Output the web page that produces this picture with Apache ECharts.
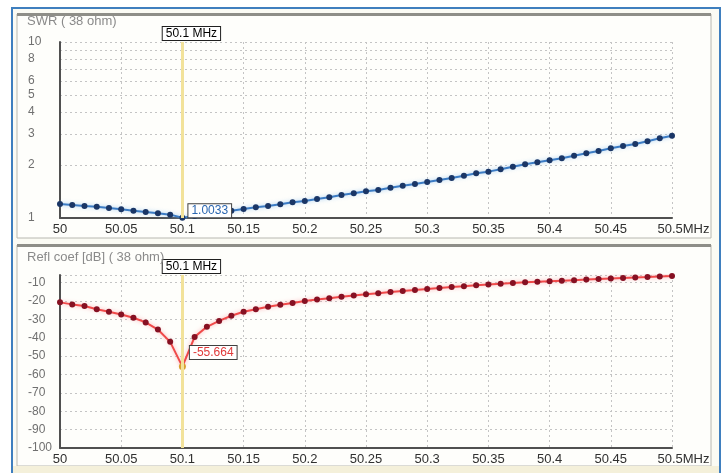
<!DOCTYPE html>
<html>
<head>
<meta charset="utf-8">
<script src="https://cdn.jsdelivr.net/npm/echarts@6/dist/echarts.min.js"></script>
<style>
  html, body { margin: 0; padding: 0; background: #fff; }
  #main { width: 724px; height: 473px; }
</style>
</head>
<body>
<div id="main"></div>
<script>
// frequency points (MHz)
var freqs = [50.00, 50.01, 50.02, 50.03, 50.04, 50.05, 50.06, 50.07, 50.08, 50.09,
    50.10, 50.11, 50.12, 50.13, 50.14, 50.15, 50.16, 50.17, 50.18, 50.19,
    50.20, 50.21, 50.22, 50.23, 50.24, 50.25, 50.26, 50.27, 50.28, 50.29,
    50.30, 50.31, 50.32, 50.33, 50.34, 50.35, 50.36, 50.37, 50.38, 50.39,
    50.40, 50.41, 50.42, 50.43, 50.44, 50.45, 50.46, 50.47, 50.48, 50.49, 50.50];

// SWR ( 38 ohm)
var swr = [1.20, 1.185, 1.17, 1.16, 1.14, 1.12, 1.10, 1.08, 1.063, 1.045,
    1.0033, 1.025, 1.05, 1.075, 1.10, 1.125, 1.15, 1.17, 1.196, 1.228,
    1.249, 1.282, 1.311, 1.351, 1.381, 1.418, 1.443, 1.486, 1.526, 1.56,
    1.60, 1.644, 1.687, 1.74, 1.794, 1.834, 1.891, 1.956, 2.019, 2.073,
    2.128, 2.184, 2.26, 2.332, 2.403, 2.489, 2.565, 2.634, 2.728, 2.838, 2.935];

// Refl coef [dB]
var refl = [-20.7, -21.8, -22.7, -24.4, -25.8, -27.3, -29.1, -31.6, -35.5, -42.2,
    -55.664, -39.5, -34.0, -30.8, -28.0, -25.8, -24.4, -23.1, -22.0, -21.0,
    -20.0, -19.2, -18.4, -17.6, -17.0, -16.3, -15.8, -15.1, -14.5, -14.0,
    -13.4, -12.9, -12.3, -11.9, -11.4, -11.0, -10.6, -10.2, -9.8, -9.5,
    -9.2, -8.9, -8.6, -8.3, -8.0, -7.7, -7.4, -7.1, -6.9, -6.6, -6.3];

var markerFreq = 50.1;
var markerIdx = 10;
var markerText = '50.1 MHz';

var swrGridValues = [1, 2, 3, 4, 5, 6, 7, 8, 9, 10];
var swrLabelValues = [1, 2, 3, 4, 5, 6, 8, 10];

var font = 'Liberation Sans, Arial, sans-serif';

function xAxisCfg(gridIndex) {
    return {
        type: 'value',
        gridIndex: gridIndex,
        min: 50,
        max: 50.5,
        interval: 0.05,
        axisLine: { show: true, onZero: false, lineStyle: { color: '#505050', width: 2 } },
        axisTick: { show: false },
        axisLabel: {
            color: '#303030',
            fontSize: 13,
            fontFamily: font,
            margin: 5,
            formatter: function (v) {
                var s = String(Math.round(v * 100) / 100);
                if (Math.abs(v - 50.5) < 1e-6) return '{m|' + s + 'MHz}';
                return s;
            },
            rich: {
                m: { color: '#303030', fontSize: 13, fontFamily: font, padding: [0, 0, 0, 23] }
            }
        },
        splitLine: { show: true, lineStyle: { color: '#c4c4c4', type: [2, 3], width: 1 } }
    };
}

function markLineCfg() {
    return {
        silent: true,
        symbol: 'none',
        lineStyle: { color: '#f2e29a', width: 3, type: 'solid' },
        label: {
            show: true,
            position: 'end',
            formatter: markerText,
            color: '#000',
            fontSize: 12,
            fontFamily: font,
            backgroundColor: '#fff',
            borderColor: '#202020',
            borderWidth: 1,
            padding: [1, 3, 0, 3],
            distance: 2,
            offset: [9, 0]
        },
        data: [{ xAxis: markerFreq }]
    };
}

var swrData = freqs.map(function (f, i) {
    if (i === markerIdx) {
        return {
            value: [f, swr[i]],
            label: {
                show: true,
                position: 'right',
                offset: [-2, -7],
                formatter: String(swr[i]),
                color: '#2a66b0',
                fontSize: 12,
                fontFamily: font,
                backgroundColor: '#fff',
                borderColor: '#404040',
                borderWidth: 1,
                padding: [1, 3, 0, 3]
            }
        };
    }
    return [f, swr[i]];
});

var reflData = freqs.map(function (f, i) {
    if (i === markerIdx) {
        return {
            value: [f, refl[i]],
            symbolSize: 7,
            itemStyle: { color: '#d8a030' },
            label: {
                show: true,
                position: 'right',
                offset: [-1, -14],
                formatter: String(refl[i]),
                color: '#e03a3a',
                fontSize: 12,
                fontFamily: font,
                backgroundColor: '#fff',
                borderColor: '#404040',
                borderWidth: 1,
                padding: [1, 3, 0, 3]
            }
        };
    }
    return [f, refl[i]];
});

var myChart = echarts.init(document.getElementById('main'), null, { renderer: 'canvas' });

var option = {
    animation: false,
    backgroundColor: '#ffffff',
    textStyle: { fontFamily: font },
    graphic: [
        // outer frame
        { type: 'rect', z: -20, shape: { x: 12, y: 8, width: 708, height: 470 },
          style: { fill: '#fbfbf4', stroke: '#3f7fbf', lineWidth: 2 } },
        // panels
        { type: 'rect', z: -19, shape: { x: 17, y: 14, width: 694, height: 224 },
          style: { fill: '#fefefb', stroke: '#b8b8b0', lineWidth: 1 } },
        { type: 'line', z: -18, shape: { x1: 17, y1: 14.5, x2: 711, y2: 14.5 },
          style: { stroke: '#8e8e88', lineWidth: 3 } },
        { type: 'rect', z: -19, shape: { x: 17, y: 245, width: 694, height: 221 },
          style: { fill: '#fefefb', stroke: '#b8b8b0', lineWidth: 1 } },
        { type: 'line', z: -18, shape: { x1: 17, y1: 245.5, x2: 711, y2: 245.5 },
          style: { stroke: '#8e8e88', lineWidth: 3 } },
        { type: 'rect', z: -18, shape: { x: 13, y: 466, width: 706, height: 8 },
          style: { fill: '#f4f0da' } }
    ],
    title: [
        { text: 'SWR ( 38 ohm)', left: 27, top: 15, padding: 0,
          textStyle: { color: '#8a8a8a', fontSize: 13, fontWeight: 'normal', fontFamily: font } },
        { text: 'Refl coef [dB] ( 38 ohm)', left: 27, top: 251, padding: 0,
          textStyle: { color: '#8a8a8a', fontSize: 13, fontWeight: 'normal', fontFamily: font } }
    ],
    grid: [
        { left: 60, right: 52, top: 42, height: 176 },
        { left: 60, right: 52, top: 275, height: 173 }
    ],
    xAxis: [xAxisCfg(0), xAxisCfg(1)],
    yAxis: [
        {
            type: 'log',
            logBase: 10,
            gridIndex: 0,
            min: 1,
            max: 10,
            axisLine: { show: true, lineStyle: { color: '#505050', width: 2 } },
            axisTick: { show: false, customValues: swrGridValues },
            axisLabel: {
                customValues: swrLabelValues,
                color: '#707070',
                fontSize: 12,
                fontFamily: font,
                align: 'left',
                margin: 32
            },
            splitLine: { show: true, lineStyle: { color: '#c4c4c4', type: [2, 3], width: 1 } }
        },
        {
            type: 'value',
            gridIndex: 1,
            min: -100,
            max: -5.8,
            interval: 10,
            axisLine: { show: true, lineStyle: { color: '#505050', width: 2 } },
            axisTick: { show: false },
            axisLabel: {
                showMaxLabel: false,
                color: '#707070',
                fontSize: 12,
                fontFamily: font,
                align: 'left',
                margin: 32
            },
            splitLine: { show: true, lineStyle: { color: '#c4c4c4', type: [2, 3], width: 1 } }
        }
    ],
    series: [
        {
            type: 'line',
            xAxisIndex: 0,
            yAxisIndex: 0,
            data: swrData,
            symbol: 'circle',
            symbolSize: 6,
            itemStyle: { color: '#1a3666' },
            lineStyle: { color: '#3c7cc4', width: 2, shadowColor: 'rgba(120,180,240,0.7)', shadowBlur: 4 },
            markLine: markLineCfg(),
            z: 3
        },
        {
            type: 'line',
            xAxisIndex: 1,
            yAxisIndex: 1,
            data: reflData,
            symbol: 'circle',
            symbolSize: 6,
            itemStyle: { color: '#861022' },
            lineStyle: { color: '#f04a4a', width: 2, shadowColor: 'rgba(250,140,150,0.7)', shadowBlur: 4 },
            markLine: markLineCfg(),
            z: 3
        }
    ]
};

myChart.setOption(option);
</script>
</body>
</html>
